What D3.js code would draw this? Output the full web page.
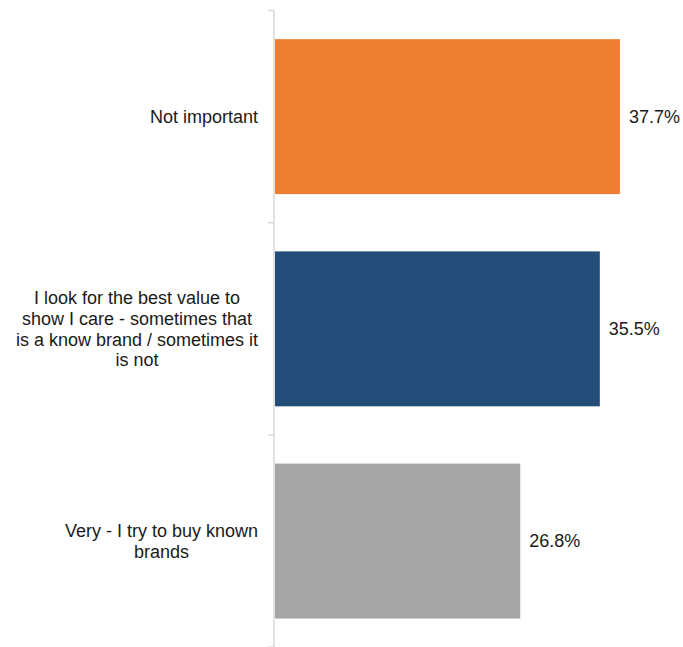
<!DOCTYPE html>
<html>
<head>
<meta charset="utf-8">
<script src="https://cdn.jsdelivr.net/npm/d3@7"></script>
<style>
  html, body { margin: 0; padding: 0; background: #fff; }
  svg { display: block; }
  text { font-family: "Liberation Sans", Arial, sans-serif; }
</style>
</head>
<body>
<div id="chart"></div>
<script>
// Importance of brand when buying — share of respondents
const categories = [
  "Not important",
  "I look for the best value to show I care - sometimes that is a know brand / sometimes it is not",
  "Very - I try to buy known brands"
];
// line breaks for the category labels
const labelLines = [
  ["Not important"],
  ["I look for the best value to", "show I care - sometimes that", "is a know brand / sometimes it", "is not"],
  ["Very - I try to buy known", "brands"]
];
const values = [37.7, 35.5, 26.8];
const colors = ["#ED7D31", "#234D78", "#A5A5A5"];

const width = 683, height = 647;
const fontSize = 18, lineHeight = 20.7;

const svg = d3.select("#chart").append("svg")
  .attr("width", width)
  .attr("height", height);

const x = d3.scaleLinear().domain([0, 40]).range([275, 641]);
const y = d3.scaleBand()
  .domain(categories)
  .range([10.5, 647.2])
  .paddingInner(0.27)
  .paddingOuter(0.135);

// category axis line and ticks at band boundaries
const axisX = 274;
svg.append("line")
  .attr("x1", axisX).attr("x2", axisX)
  .attr("y1", y.range()[0]).attr("y2", y.range()[1])
  .attr("stroke", "#d9d9d9").attr("stroke-width", 1.5);

const boundaries = categories.map(c => y(c) - y.step() * y.paddingInner() / 2)
  .concat([y.range()[1]]);
svg.selectAll("line.tick").data(boundaries).join("line")
  .attr("class", "tick")
  .attr("x1", axisX - 6).attr("x2", axisX)
  .attr("y1", d => d).attr("y2", d => d)
  .attr("stroke", "#d9d9d9").attr("stroke-width", 1.5);

// bars
svg.selectAll("rect.bar").data(values).join("rect")
  .attr("class", "bar")
  .attr("x", x(0))
  .attr("y", (d, i) => y(categories[i]))
  .attr("width", d => x(d) - x(0))
  .attr("height", y.bandwidth())
  .attr("fill", (d, i) => colors[i]);

// value labels
svg.selectAll("text.value").data(values).join("text")
  .attr("class", "value")
  .attr("x", d => x(d) + 9)
  .attr("y", (d, i) => y(categories[i]) + y.bandwidth() / 2)
  .attr("dy", "0.35em")
  .attr("font-size", fontSize)
  .attr("fill", "#1a1a1a")
  .text(d => d.toFixed(1) + "%");

// category labels: block right-aligned, lines centred within block
const rightEdge = 258;
const measure = svg.append("text").attr("font-size", fontSize).attr("visibility", "hidden");
function textWidth(s) { measure.text(s); return measure.node().getComputedTextLength(); }

categories.forEach((cat, ci) => {
  const lines = labelLines[ci];
  const blockW = d3.max(lines, textWidth);
  const cx = rightEdge - blockW / 2;
  const cy = y(cat) + y.bandwidth() / 2;
  const t = svg.append("text")
    .attr("font-size", fontSize)
    .attr("fill", "#1a1a1a")
    .attr("text-anchor", "middle");
  lines.forEach((l, i) => {
    t.append("tspan")
      .attr("x", cx)
      .attr("y", cy + (i - (lines.length - 1) / 2) * lineHeight)
      .attr("dy", "0.35em")
      .text(l);
  });
});
measure.remove();
</script>
</body>
</html>
